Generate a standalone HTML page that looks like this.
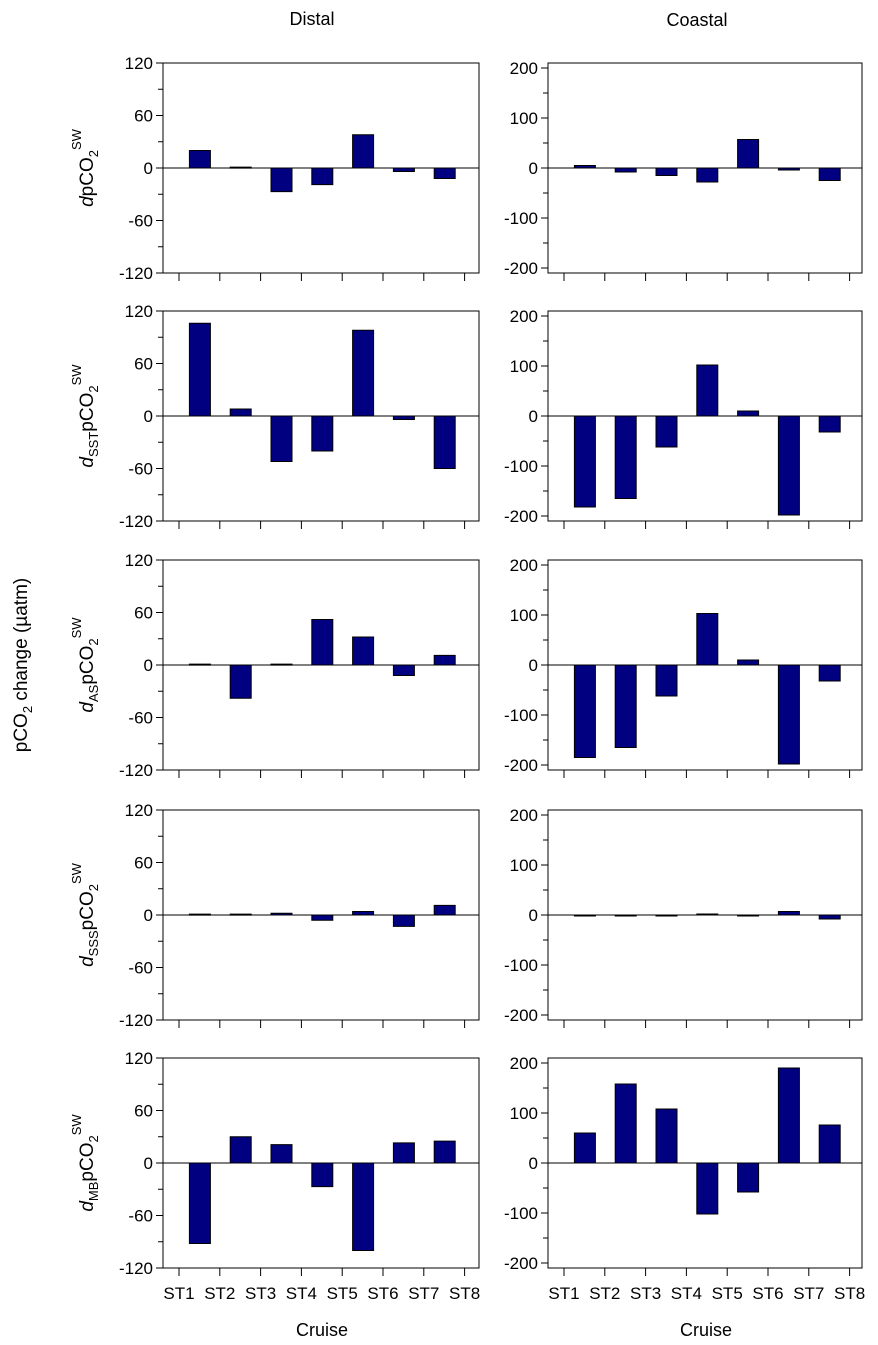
<!DOCTYPE html>
<html><head><meta charset="utf-8"><style>
body{margin:0;background:#fff}
svg{display:block;font-family:"Liberation Sans",Arial,sans-serif}
</style></head><body>
<svg id="c" width="878" height="1345" viewBox="0 0 878 1345" xmlns="http://www.w3.org/2000/svg">
<text x="312" y="25" font-size="18" text-anchor="middle">Distal</text>
<text x="697" y="26" font-size="18" text-anchor="middle">Coastal</text>
<text transform="translate(27,665) rotate(-90)" font-size="19" text-anchor="middle">pCO<tspan font-size="13" dy="5">2</tspan><tspan dy="-5"> change (µatm)</tspan></text>
<text x="322" y="1336" font-size="18" text-anchor="middle">Cruise</text>
<text x="706" y="1336" font-size="18" text-anchor="middle">Cruise</text>
</svg>
<script>
const categories=["ST1","ST2","ST3","ST4","ST5","ST6","ST7","ST8"];
const rowLabels=["","SST","AS","SSS","MB"];
const distalTicks=[120,60,0,-60,-120];
const coastalTicks=[200,100,0,-100,-200];
const distal1=[20,1,-27,-19,38,-4,-12];
const distal2=[106,8,-52,-40,98,-4,-60];
const distal3=[1,-38,1,52,32,-12,11];
const distal4=[1,1,2,-6,4,-13,11];
const distal5=[-92,30,21,-27,-100,23,25];
const coastal1=[5,-8,-15,-28,57,-4,-25];
const coastal2=[-182,-165,-62,102,10,-198,-32];
const coastal3=[-185,-165,-62,103,10,-198,-32];
const coastal4=[-2,0,0,2,0,7,-8];
const coastal5=[60,158,108,-102,-58,190,76];
const distal=[distal1,distal2,distal3,distal4,distal5];
const coastal=[coastal1,coastal2,coastal3,coastal4,coastal5];
const NS="http://www.w3.org/2000/svg";
const svg=document.getElementById('c');
function mk(t,a,p){const e=document.createElementNS(NS,t);for(const k in a)e.setAttribute(k,a[k]);(p||svg).appendChild(e);return e;}
const rowTops=[63,311,560,810,1058];
const H=210;
function panel(col,row,vals){
  const left=col===0?163:548, right=col===0?479:862;
  const top=rowTops[row], bottom=top+H;
  const max=col===0?120:210, ticks=col===0?distalTicks:coastalTicks, minor=col===0?30:50;
  const y=v=>top+H/2-v*(H/2)/max;
  const x0=left+16;
  const x=i=>x0+i*40.8;
  const g=mk('g',{});
  
  
  mk('rect',{x:left,y:top,width:right-left,height:H,fill:'none',stroke:'#000','stroke-width':1},g);
  for(let v=-max+(max%minor);v<=max;v+=minor){
    if(Math.abs(v)>max)continue;
    const major=ticks.includes(v);
    mk('line',{x1:left,x2:left-(major?7:5),y1:y(v),y2:y(v),stroke:'#000'},g);
  }
  ticks.forEach(t=>{const tx=mk('text',{x:left-10,y:y(t)+6,'font-size':17,'text-anchor':'end'},g);tx.textContent=t;
    
    });
  categories.forEach((c,i)=>{mk('line',{x1:x(i),x2:x(i),y1:bottom,y2:bottom+8,stroke:'#000'},g);
    if(row===4){const tx=mk('text',{x:x(i),y:bottom+31,'font-size':17,'text-anchor':'middle'},g);tx.textContent=c;
      
      }});
  vals.forEach((v,i)=>{const cx=x(i)+20.4, w=21;
    const r=mk('rect',{x:cx-w/2+0.5,y:Math.min(y(v),y(0)),width:w,height:Math.max(Math.abs(y(v)-y(0)),1),fill:'#000080',stroke:'#000','stroke-width':1},g);
    
    });
  mk('line',{x1:left,x2:right,y1:y(0),y2:y(0),stroke:'#000'},g);
  if(col===0){
    const lx=93, ly=top+H/2;
    const t=mk('text',{transform:`translate(${lx},${ly}) rotate(-90)`,'font-size':19,'text-anchor':'middle'},g);
    
    
    const sub=rowLabels[row];
    t.innerHTML=`<tspan font-style="italic">d</tspan>`+(sub?`<tspan font-size="13" dy="5">${sub}</tspan><tspan dy="-5">pCO</tspan>`:`<tspan>pCO</tspan>`)+`<tspan font-size="13" dy="5">2</tspan><tspan font-size="13" dy="-17">SW</tspan>`;
  }
}
for(let r=0;r<5;r++){panel(0,r,distal[r]);panel(1,r,coastal[r]);}
</script>
</body></html>
